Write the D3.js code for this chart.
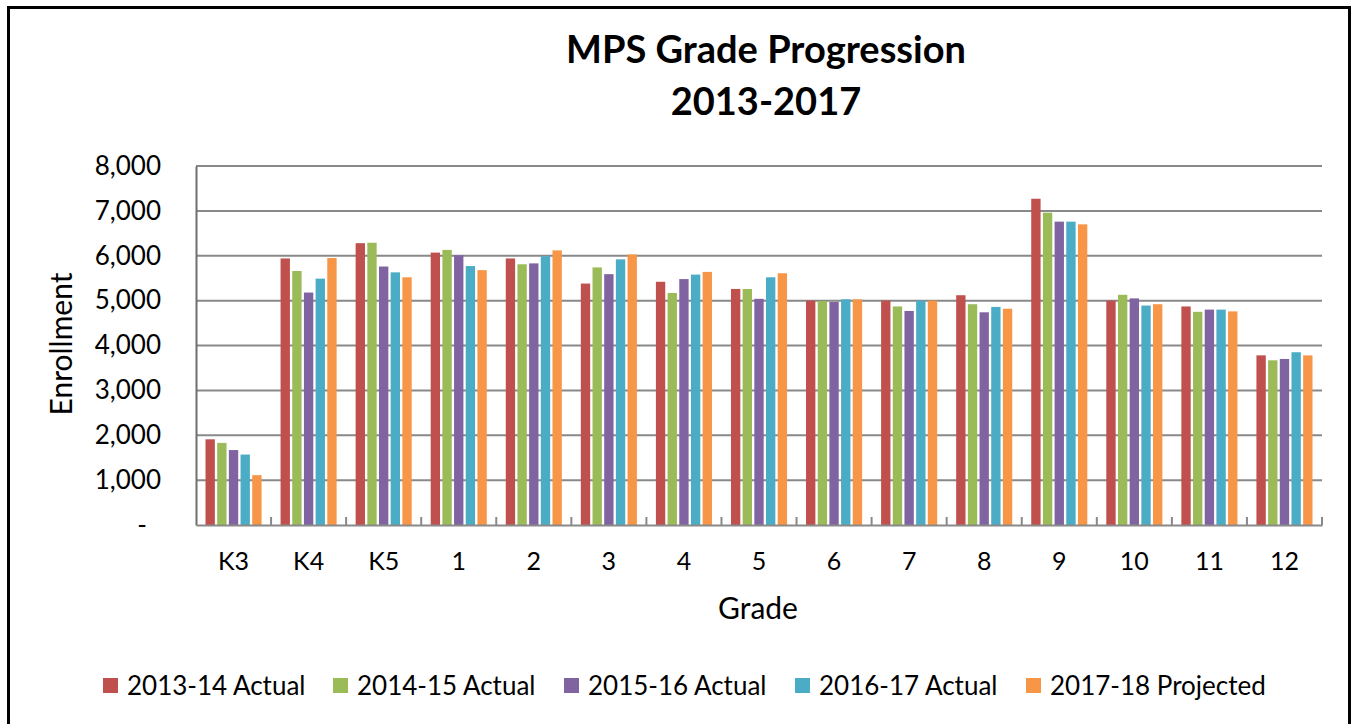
<!DOCTYPE html>
<html>
<head>
<meta charset="utf-8">
<script src="https://cdnjs.cloudflare.com/ajax/libs/d3/7.8.5/d3.min.js"></script>
<style>
  body { margin: 0; background: #fff; }
  svg { display: block; font-family: Lato, "Open Sans", sans-serif; }
</style>
</head>
<body>
<svg id="chart"></svg>
<script>
const grades = ['K3', 'K4', 'K5', '1', '2', '3', '4', '5', '6', '7', '8', '9', '10', '11', '12'];
const seriesNames = ['2013-14 Actual', '2014-15 Actual', '2015-16 Actual', '2016-17 Actual', '2017-18 Projected'];
const seriesColors = ['#C0504D', '#9BBB59', '#8064A2', '#4BACC6', '#F79646'];

const y2013 = [1910, 5940, 6280, 6070, 5940, 5380, 5420, 5260, 5000, 5000, 5120, 7270, 5000, 4870, 3780];
const y2014 = [1830, 5660, 6290, 6130, 5810, 5740, 5170, 5260, 4990, 4870, 4920, 6960, 5130, 4750, 3670];
const y2015 = [1670, 5180, 5760, 6010, 5830, 5590, 5480, 5040, 4970, 4770, 4740, 6760, 5050, 4800, 3700];
const y2016 = [1570, 5490, 5630, 5770, 5990, 5920, 5580, 5520, 5030, 5000, 4860, 6760, 4890, 4800, 3850];
const y2017 = [1110, 5950, 5520, 5680, 6120, 6030, 5640, 5610, 5030, 5000, 4820, 6700, 4920, 4760, 3780];
const allSeries = [y2013, y2014, y2015, y2016, y2017];

const yTicks = [0, 1000, 2000, 3000, 4000, 5000, 6000, 7000, 8000];

const width = 1354, height = 724;
const plot = { left: 196, right: 1322, top: 166, bottom: 525 };

const svg = d3.select('#chart').attr('width', width).attr('height', height);

// outer frame
svg.append('rect')
  .attr('x', 8.5).attr('y', 7.5)
  .attr('width', 1341).attr('height', 722)
  .attr('fill', 'none').attr('stroke', '#000').attr('stroke-width', 3);

const x0 = d3.scaleBand().domain(grades).range([plot.left, plot.right]).padding(0);
const x1 = d3.scaleBand().domain(d3.range(seriesNames.length))
  .range([9.5, x0.bandwidth() - 9.5]).paddingInner(0.2);
const y = d3.scaleLinear().domain([0, 8000]).range([plot.bottom, plot.top]);

// gridlines
svg.append('g')
  .selectAll('line')
  .data(yTicks.filter(d => d > 0))
  .enter().append('line')
  .attr('x1', plot.left).attr('x2', plot.right)
  .attr('y1', d => y(d)).attr('y2', d => y(d))
  .attr('stroke', '#898989').attr('stroke-width', 2);

// bars
const groups = svg.append('g')
  .selectAll('g')
  .data(grades)
  .enter().append('g')
  .attr('transform', d => `translate(${x0(d)},0)`);

groups.selectAll('rect')
  .data((g, gi) => allSeries.map((s, si) => ({ si, v: s[gi] })))
  .enter().append('rect')
  .attr('x', d => x1(d.si))
  .attr('y', d => y(d.v))
  .attr('width', x1.bandwidth())
  .attr('height', d => y(0) - y(d.v))
  .attr('fill', d => seriesColors[d.si]);

// y axis
const yAxis = svg.append('g')
  .attr('transform', `translate(${plot.left},0)`)
  .call(d3.axisLeft(y).tickValues(yTicks).tickSize(0).tickPadding(35)
    .tickFormat(d => d === 0 ? '-' : d3.format(',')(d)));
yAxis.select('.domain').attr('stroke', '#6f6f6f').attr('stroke-width', 2);
yAxis.selectAll('text')
  .attr('font-size', 26).attr('fill', '#000').attr('font-family', 'Lato')
  .attr('dx', d => d === 0 ? -14 : 0);

// x axis
const xAxis = svg.append('g')
  .attr('transform', `translate(0,${plot.bottom})`)
  .call(d3.axisBottom(x0).tickSize(0).tickPadding(27));
xAxis.select('.domain').attr('stroke', '#898989').attr('stroke-width', 2);
xAxis.selectAll('text').attr('font-size', 25).attr('fill', '#000').attr('font-family', 'Lato');

// category divider ticks (pointing up into the plot)
svg.append('g')
  .selectAll('line')
  .data(grades.map(g => x0(g)).concat([plot.right]).slice(1))
  .enter().append('line')
  .attr('x1', d => d).attr('x2', d => d)
  .attr('y1', plot.bottom).attr('y2', plot.bottom - 8)
  .attr('stroke', '#898989').attr('stroke-width', 2);

// titles
svg.append('text')
  .attr('x', 766).attr('y', 63)
  .attr('text-anchor', 'middle')
  .attr('font-size', 38).attr('font-weight', 'bold')
  .text('MPS Grade Progression');
svg.append('text')
  .attr('x', 766).attr('y', 115)
  .attr('text-anchor', 'middle')
  .attr('font-size', 38).attr('font-weight', 'bold')
  .text('2013-2017');

svg.append('text')
  .attr('x', 758).attr('y', 619)
  .attr('text-anchor', 'middle')
  .attr('font-size', 30)
  .text('Grade');

svg.append('text')
  .attr('transform', 'translate(72,344) rotate(-90)')
  .attr('text-anchor', 'middle')
  .attr('font-size', 30)
  .text('Enrollment');

// legend
const legendX = [103, 333, 564, 795, 1026];
const legend = svg.append('g')
  .selectAll('g')
  .data(seriesNames)
  .enter().append('g')
  .attr('transform', (d, i) => `translate(${legendX[i]},678)`);
legend.append('rect')
  .attr('width', 15).attr('height', 15)
  .attr('fill', (d, i) => seriesColors[i]);
legend.append('text')
  .attr('x', 24).attr('y', 17)
  .attr('font-size', 26)
  .text(d => d);
</script>
</body>
</html>
